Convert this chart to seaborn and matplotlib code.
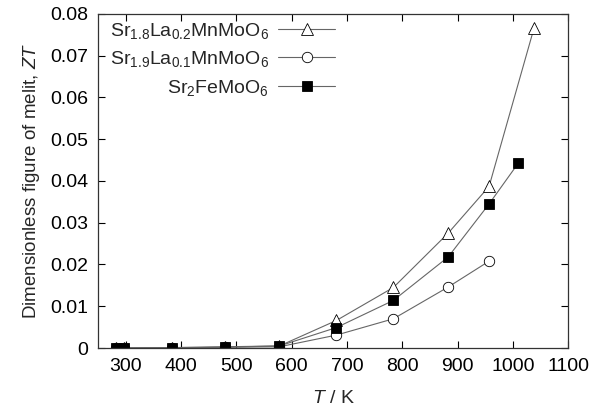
import matplotlib
matplotlib.use("Agg")
import matplotlib.pyplot as plt
import seaborn as sns
import pandas as pd

labels = [r"Sr$_{1.8}$La$_{0.2}$MnMoO$_6$", r"Sr$_{1.9}$La$_{0.1}$MnMoO$_6$", r"Sr$_2$FeMoO$_6$"]
T_tri = [283, 297, 383, 479, 578, 681, 784, 883, 957, 1038]
ZT_tri = [0, 0, 0, 0.0002, 0.0005, 0.0066, 0.0145, 0.0275, 0.0387, 0.0765]
T_circ = [283, 297, 383, 479, 578, 681, 784, 883, 957]
ZT_circ = [0, 0, 0.0001, 0.0002, 0.0003, 0.0031, 0.0070, 0.0146, 0.0208]
T_sq = [283, 297, 383, 479, 578, 681, 784, 883, 957, 1010]
ZT_sq = [0, 0, 0.0001, 0.0003, 0.0005, 0.0049, 0.0114, 0.0218, 0.0345, 0.0443]
xticks = [300, 400, 500, 600, 700, 800, 900, 1000, 1100]
yticks = [0, 0.01, 0.02, 0.03, 0.04, 0.05, 0.06, 0.07, 0.08]
ytick_labels = ["0", "0.01", "0.02", "0.03", "0.04", "0.05", "0.06", "0.07", "0.08"]

sns.set_style("ticks")
plt.rcParams['font.family'] = ['Liberation Sans', 'DejaVu Sans']
plt.rcParams['mathtext.fontset'] = 'custom'
plt.rcParams['mathtext.rm'] = 'Liberation Sans'
plt.rcParams['mathtext.it'] = 'Liberation Sans:italic'

fig = plt.figure(figsize=(6.09, 4.08), dpi=100)
ax = fig.add_axes([0.161, 0.147, 0.772, 0.819])

series = [
    (T_tri, ZT_tri, "^", "white", 8.5),
    (T_circ, ZT_circ, "o", "white", 7.5),
    (T_sq, ZT_sq, "s", "black", 7.5),
]
for (xs, ys, m, fc, ms), lab in zip(series, labels):
    df = pd.DataFrame({"T": xs, "ZT": ys})
    sns.lineplot(data=df, x="T", y="ZT", ax=ax, color="#666666", lw=0.8,
                 marker=m, markersize=ms, markerfacecolor=fc,
                 markeredgecolor="black", markeredgewidth=0.6, label=lab,
                 estimator=None, sort=False)

ax.set_xlim(250, 1100)
ax.set_ylim(0, 0.08)
ax.set_xticks(xticks)
ax.set_xticklabels([str(v) for v in xticks])
ax.set_yticks(yticks)
ax.set_yticklabels(ytick_labels)
ax.tick_params(direction="in", top=True, right=True, length=5, width=0.8,
               labelsize=14, colors="black", pad=7)
for s in ax.spines.values():
    s.set_color("#333333")
    s.set_linewidth(0.9)
ax.set_xlabel(r"$T$ / K", fontsize=14, labelpad=11)
ax.set_ylabel(r"Dimensionless figure of melit, $ZT$", fontsize=13.5, labelpad=6)

leg = ax.legend(loc="upper left", frameon=False, markerfirst=False, fontsize=14,
                handlelength=2.9, handletextpad=0.5, labelspacing=0.45,
                bbox_to_anchor=(0.0, 1.015), borderaxespad=0.2)
fig.savefig("out.png", dpi=100)
